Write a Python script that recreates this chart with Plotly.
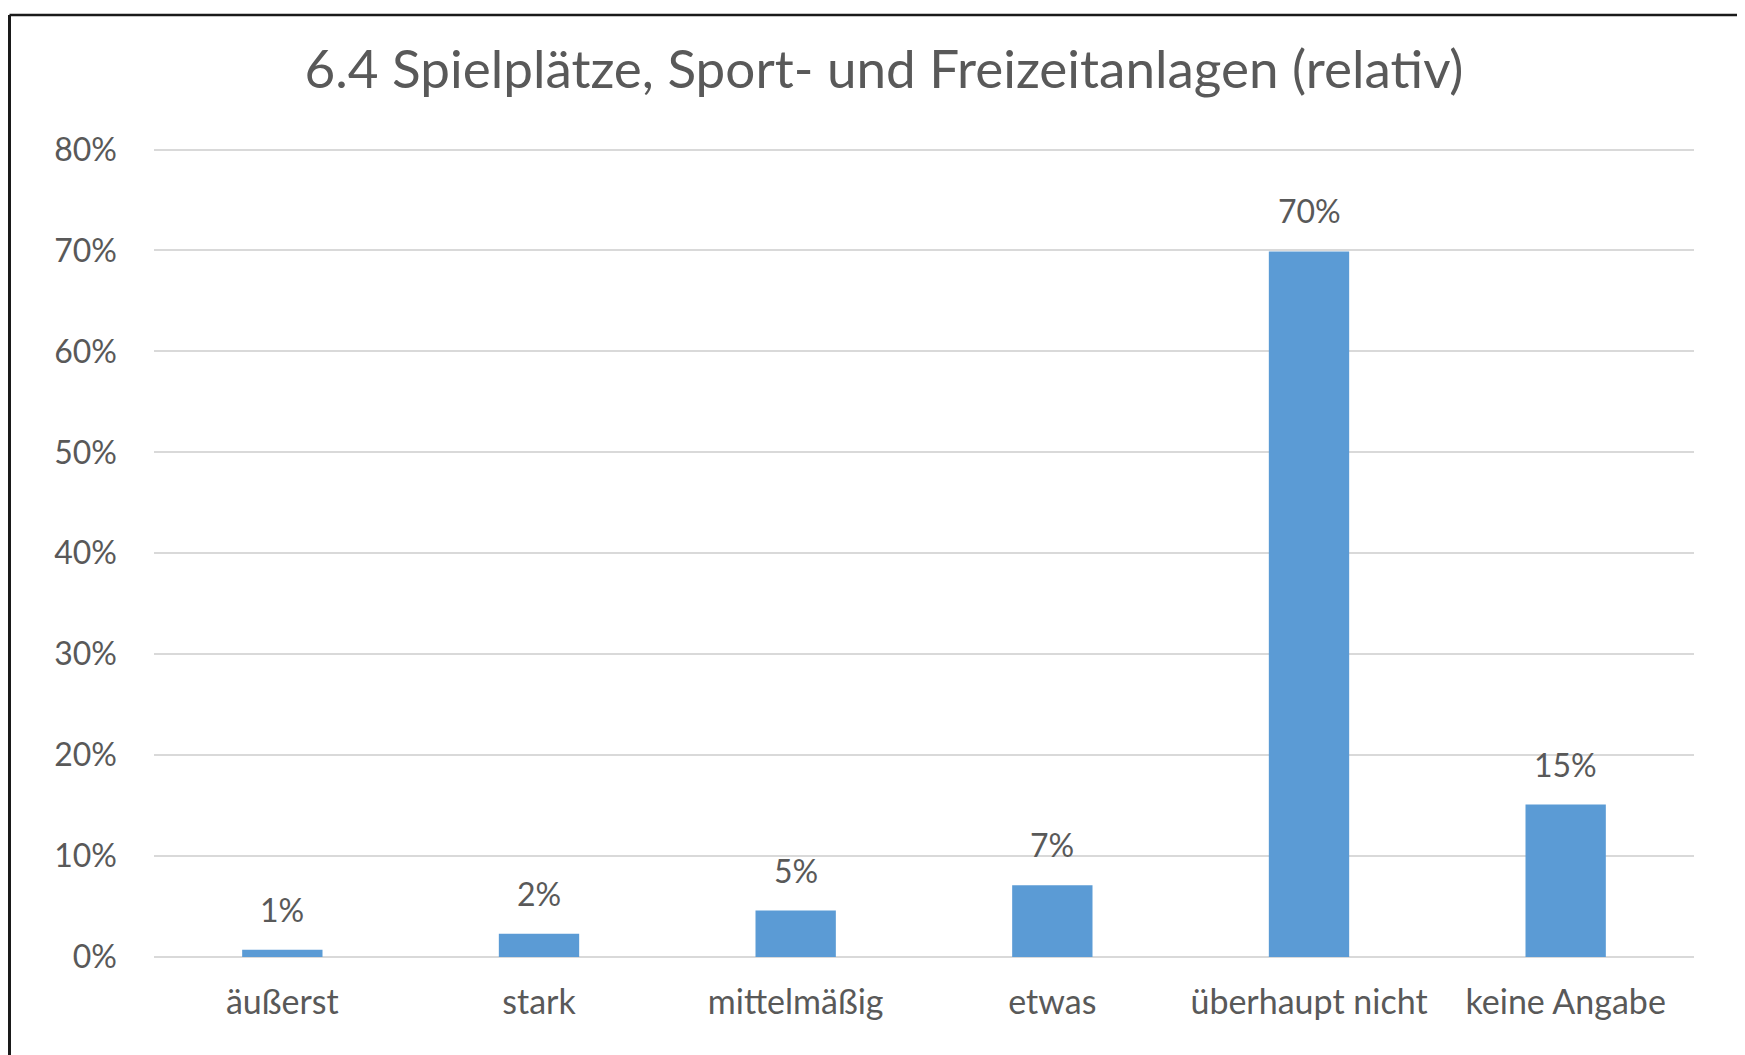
import plotly.graph_objects as go

# ---- data ----
categories = ["äußerst", "stark", "mittelmäßig", "etwas", "überhaupt nicht", "keine Angabe"]
values = [0.0073, 0.023, 0.046, 0.071, 0.699, 0.151]
value_labels = ["1%", "2%", "5%", "7%", "70%", "15%"]
y_ticks = [0, 0.1, 0.2, 0.3, 0.4, 0.5, 0.6, 0.7, 0.8]
title_text = "6.4 Spielplätze, Sport- und Freizeitanlagen (relativ)"

FONT = "Lato"
GRAY = "#595959"
BLUE = "#5B9BD5"
GRID = "#D9D9D9"

# page body has an 8px margin, so the figure is 8px smaller than the window
W, H = 1737, 1047
ML, MR, MT, MB = 146, 51, 140, 98

fig = go.Figure()
fig.add_trace(go.Bar(
    x=categories, y=values,
    marker=dict(color=BLUE, line=dict(width=0)),
    width=0.313,
    hoverinfo="x+y",
))

for c, v, lab in zip(categories, values, value_labels):
    fig.add_annotation(
        x=c, y=v, text=lab, showarrow=False,
        yanchor="bottom", yshift=19,
        font=dict(family=FONT, size=32, color=GRAY),
    )

# chart frame (top and left border of the screenshot)
pw = W - ML - MR
ph = H - MT - MB
x_left = (1.5 - ML) / pw
y_top = (H - MB - 7) / ph
fig.add_shape(type="line", xref="paper", yref="paper",
              x0=x_left, x1=(W + 10 - ML) / pw, y0=y_top, y1=y_top,
              line=dict(color="#1a1a1a", width=2.5))
fig.add_shape(type="line", xref="paper", yref="paper",
              x0=x_left, x1=x_left, y0=y_top, y1=(H - MB - H - 10) / ph,
              line=dict(color="#1a1a1a", width=3))

fig.update_layout(
    width=W, height=H,
    margin=dict(l=ML, r=MR, t=MT, b=MB),
    paper_bgcolor="white", plot_bgcolor="white",
    showlegend=False,
    bargap=0.687,
    title=dict(text=title_text, x=876 / W, xref="container", xanchor="center",
               y=1 - 61 / H, yref="container", yanchor="middle",
               font=dict(family=FONT, size=53, color=GRAY)),
    font=dict(family=FONT, color=GRAY),
)
fig.update_xaxes(
    showgrid=False, showline=False, zeroline=False, ticks="",
    tickfont=dict(family=FONT, size=34, color=GRAY),
    ticklabelstandoff=22,
)
fig.update_yaxes(
    range=[0, 0.8015], tickvals=y_ticks, tickformat=".0%",
    showgrid=True, gridcolor=GRID, gridwidth=2,
    zeroline=True, zerolinecolor=GRID, zerolinewidth=2,
    showline=False, ticks="",
    tickfont=dict(family=FONT, size=32, color=GRAY),
    ticklabelstandoff=36,
)

fig.write_html("out.html")
